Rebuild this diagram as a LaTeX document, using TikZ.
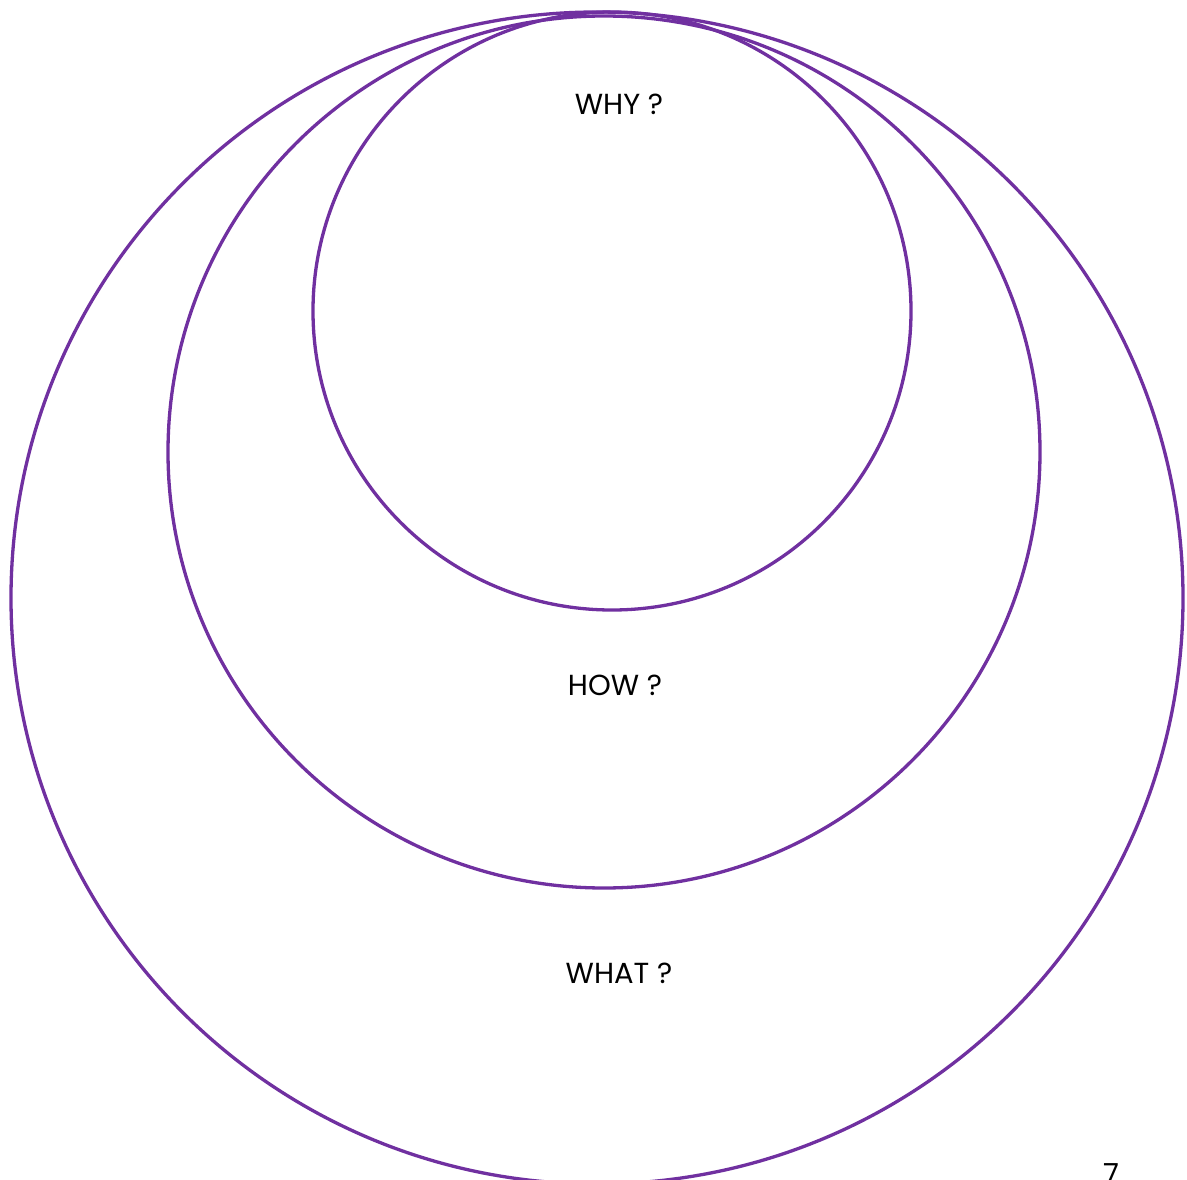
\documentclass[tikz,border=0pt]{standalone}
\usepackage{fontspec}
\setmainfont{Poppins}
\usepackage{xcolor}
\definecolor{cRing}{HTML}{7030A0}
\definecolor{cText}{HTML}{000000}
\usepackage{tikz}
\usetikzlibrary{positioning}
\tikzset{
  node-ring/.style={draw=cRing,line width=3.3pt,circle,inner sep=0pt},
  node-label/.style={text=cText,font=\fontsize{29}{32}\selectfont,inner sep=0pt},
  node-page/.style={text=cText,font=\fontsize{29}{32}\selectfont,inner sep=0pt,anchor=base},
}

\begin{document}
\begin{tikzpicture}[x=1pt,y=-1pt]
  \useasboundingbox (0,0) rectangle (1187,1180);
  \node[node-ring,minimum size=1172pt] (what-ring) at (597,598) {};
  \node[node-ring,minimum size=872pt]  (how-ring)  at (604,452) {};
  \node[node-ring,minimum size=598pt]  (why-ring)  at (612,311) {};
  \node[node-label] (why)  at (619,104) {WHY ?};
  \node[node-label] (how)  at (615,685) {HOW ?};
  \node[node-label] (what) at (619,973) {WHAT ?};
  \node[node-page]  (page) at (1111,1184) {7};
\end{tikzpicture}
\end{document}
